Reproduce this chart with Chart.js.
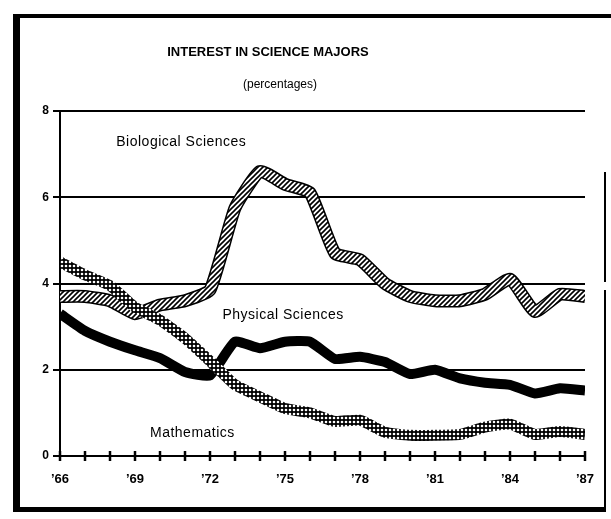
<!DOCTYPE html>
<html>
<head>
<meta charset="utf-8">
<script src="https://cdn.jsdelivr.net/npm/chart.js@4.4.1/dist/chart.umd.min.js"></script>
<style>
  html, body { margin: 0; padding: 0; background: #fff; }
  #wrap { width: 611px; height: 519px; position: relative; }
</style>
</head>
<body>
<div id="wrap"><canvas id="majors" width="611" height="519"></canvas></div>
<script>
const years = [1966, 1967, 1968, 1969, 1970, 1971, 1972, 1973, 1974, 1975, 1976,
               1977, 1978, 1979, 1980, 1981, 1982, 1983, 1984, 1985, 1986, 1987];
const biological = [3.7, 3.7, 3.6, 3.3, 3.5, 3.6, 3.85, 5.75, 6.6, 6.3, 6.1,
                    4.7, 4.55, 4.0, 3.7, 3.6, 3.6, 3.75, 4.1, 3.35, 3.75, 3.7];
const physical = [3.3, 2.9, 2.65, 2.45, 2.27, 1.95, 1.87, 2.65, 2.5, 2.65, 2.65,
                  2.25, 2.3, 2.18, 1.9, 2.0, 1.8, 1.7, 1.65, 1.45, 1.57, 1.52];
const mathematics = [4.5, 4.2, 3.95, 3.45, 3.15, 2.73, 2.2, 1.65, 1.37, 1.1, 1.0,
                     0.8, 0.83, 0.55, 0.48, 0.48, 0.5, 0.67, 0.74, 0.5, 0.57, 0.5];
const labeledYears = [1966, 1969, 1972, 1975, 1978, 1981, 1984, 1987];
const yTicks = [0, 2, 4, 6, 8];

const FONT = '"Liberation Sans", Arial, Helvetica, sans-serif';

// hatched fill for the biology line
function hatchPattern() {
  const c = document.createElement('canvas');
  c.width = 5; c.height = 5;
  const g = c.getContext('2d');
  g.fillStyle = '#fff';
  g.fillRect(0, 0, 5, 5);
  g.strokeStyle = '#000';
  g.lineWidth = 1.6;
  g.beginPath();
  g.moveTo(-1, 6); g.lineTo(6, -1);
  g.moveTo(-1, 1); g.lineTo(1, -1);
  g.moveTo(4, 6); g.lineTo(6, 4);
  g.stroke();
  return g.createPattern(c, 'repeat');
}

// black grid with white holes for mathematics
function dotPattern() {
  const c = document.createElement('canvas');
  c.width = 4; c.height = 4;
  const g = c.getContext('2d');
  g.fillStyle = '#000';
  g.fillRect(0, 0, 4, 4);
  g.fillStyle = '#fff';
  g.beginPath();
  g.arc(2, 2, 1.3, 0, Math.PI * 2);
  g.fill();
  return g.createPattern(c, 'repeat');
}

const toPoints = arr => years.map((y, i) => ({ x: y, y: arr[i] }));

const lineBase = {
  pointRadius: 0,
  tension: 0.15,
  borderJoinStyle: 'round',
  borderCapStyle: 'butt',
  fill: false
};

const decorations = {
  id: 'decorations',
  afterDraw(chart) {
    const ctx = chart.ctx;
    const xs = chart.scales.x, ys = chart.scales.y;
    ctx.save();

    // x axis ticks crossing the baseline
    const base = ys.getPixelForValue(0);
    ctx.strokeStyle = '#000';
    ctx.lineWidth = 2.5;
    years.forEach(y => {
      const px = xs.getPixelForValue(y);
      ctx.beginPath();
      ctx.moveTo(px, base - 5);
      ctx.lineTo(px, base + 5);
      ctx.stroke();
    });

    // outer frame
    ctx.fillStyle = '#000';
    ctx.fillRect(13, 14, 598, 4);
    ctx.fillRect(13, 14, 7, 498);
    ctx.fillRect(13, 507, 592, 5);
    ctx.fillRect(604, 172, 2, 110);
    ctx.fillRect(604, 290, 2, 222);

    // headings
    ctx.textAlign = 'center';
    ctx.textBaseline = 'middle';
    ctx.font = 'bold 13px ' + FONT;
    ctx.fillText('INTEREST IN SCIENCE MAJORS', 268, 52);
    ctx.font = '12px ' + FONT;
    ctx.fillText('(percentages)', 280, 85);

    // series names
    ctx.textAlign = 'left';
    ctx.font = '14px ' + FONT;
    ctx.letterSpacing = '0.5px';
    ctx.fillText('Biological Sciences', xs.getPixelForValue(1968.25), ys.getPixelForValue(7.28));
    ctx.fillText('Physical Sciences', xs.getPixelForValue(1972.5), ys.getPixelForValue(3.27));
    ctx.fillText('Mathematics', xs.getPixelForValue(1969.6), ys.getPixelForValue(0.53));
    ctx.restore();
  }
};

new Chart(document.getElementById('majors'), {
  type: 'line',
  data: {
    datasets: [
      { ...lineBase, label: 'Mathematics', data: toPoints(mathematics),
        borderColor: dotPattern(), borderWidth: 11, order: 0 },
      { ...lineBase, label: 'Biological Sciences', data: toPoints(biological),
        borderColor: hatchPattern(), borderWidth: 10, order: 1 },
      { ...lineBase, label: 'Biological Sciences outline', data: toPoints(biological),
        borderColor: '#000', borderWidth: 13, order: 2 },
      { ...lineBase, label: 'Physical Sciences', data: toPoints(physical),
        borderColor: '#000', borderWidth: 10, order: 3 }
    ]
  },
  options: {
    responsive: false,
    animation: false,
    devicePixelRatio: 1,
    layout: { padding: { left: 20, right: 26, top: 111, bottom: 28 } },
    plugins: {
      legend: { display: false },
      tooltip: { enabled: false },
      title: { display: false }
    },
    scales: {
      x: {
        type: 'linear',
        min: years[0],
        max: years[years.length - 1],
        grid: { display: false },
        border: { display: true, color: '#000', width: 2 },
        ticks: {
          stepSize: 1,
          autoSkip: false,
          maxRotation: 0,
          padding: 8,
          color: '#000',
          font: { family: FONT, size: 13, weight: 'bold' },
          callback: v => labeledYears.includes(v) ? '\u2019' + String(v).slice(2) : ''
        },
        afterFit(scale) { scale.height = 35; }
      },
      y: {
        min: 0,
        max: 8,
        grid: { color: '#000', lineWidth: 2, tickLength: 7, drawTicks: true },
        border: { display: true, color: '#000', width: 2 },
        afterBuildTicks(scale) { scale.ticks = yTicks.map(v => ({ value: v })); },
        ticks: {
          padding: 4,
          color: '#000',
          font: { family: FONT, size: 12, weight: 'bold' }
        },
        afterFit(scale) { scale.width = 40; }
      }
    }
  },
  plugins: [decorations]
});
</script>
</body>
</html>
